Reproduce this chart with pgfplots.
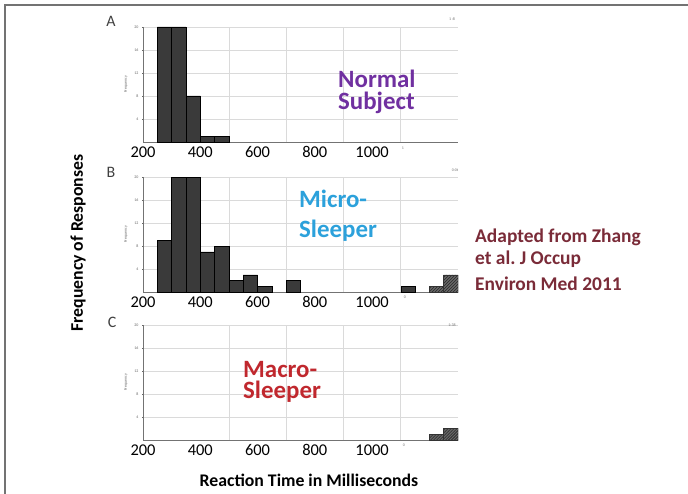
\documentclass[border=0pt]{standalone}
\usepackage{fontspec}
\setmainfont{Carlito}
\usepackage{pgfplots}
\pgfplotsset{compat=1.18}
\usetikzlibrary{patterns}

\definecolor{barfill}{HTML}{3A3A3A}
\definecolor{purp}{HTML}{7030A0}
\definecolor{cyanb}{HTML}{2CA1DB}
\definecolor{macred}{HTML}{C0282E}
\definecolor{maroonc}{HTML}{7A2B38}
\definecolor{gridc}{HTML}{DADADA}

\pgfplotsset{
  panel/.style={
    scale only axis, width=315bp, height=115bp,
    xmin=200, xmax=1300, ymin=0, ymax=20,
    axis x line=bottom, axis y line=left,
    axis line style={-, black!55, line width=0.8bp},
    xtick={200,400,600,800,1000},
    xtick style={draw=none},
    x tick label style={font=\fontsize{16.5}{16.5}\selectfont,
      /pgf/number format/assume math mode=true,
      /pgf/number format/1000 sep={}},
    extra x ticks={500,700,900,1100},
    extra x tick labels={},
    extra x tick style={grid=major},
    ytick={4,8,12,16,20},
    ymajorgrids,
    grid style={gridc, line width=0.6bp},
    y tick label style={font=\fontsize{4}{4}\selectfont, text=black!60,
      /pgf/number format/assume math mode=true},
    ytick style={black!60, line width=0.4bp},
    major tick length=2bp,
    ylabel={Frequency},
    ylabel style={font=\fontsize{4}{4}\selectfont, text=black!60},
  },
  bars/.style={ybar interval, fill=barfill, draw=black, line width=0.4bp},
  hbars/.style={ybar interval, fill=black!60, draw=black!80, line width=0.4bp,
    postaction={pattern=north east lines, pattern color=black!90}},
}

\begin{document}
\begin{tikzpicture}[x=1bp,y=1bp]
\path[use as bounding box] (0,0) rectangle (688,-494);
\draw[black!55, line width=2bp] (5,-494) -- (5,-5) -- (688,-5);

% A: normal subject
\begin{axis}[panel, at={(143bp,-142bp)}, anchor=south west]
  \addplot[bars] coordinates {(250,20) (300,20) (350,8) (400,1) (450,1) (500,0)};
\end{axis}

% B: micro-sleeper
\begin{axis}[panel, at={(143bp,-292bp)}, anchor=south west]
  \addplot[bars] coordinates {(250,9) (300,20) (350,20) (400,7) (450,8)
    (500,2) (550,3) (600,1) (650,0)};
  \addplot[bars] coordinates {(700,2) (750,0)};
  \addplot[bars] coordinates {(1100,1) (1150,0)};
  \addplot[hbars] coordinates {(1200,1) (1250,3) (1300,0)};
\end{axis}

% C: macro-sleeper
\begin{axis}[panel, at={(143bp,-440bp)}, anchor=south west]
  \addplot[hbars] coordinates {(1200,1) (1250,2) (1300,0)};
\end{axis}

\node[font=\fontsize{16}{16}\selectfont, text=black!75] at (111,-21) {A};
\node[font=\fontsize{16}{16}\selectfont, text=black!75] at (111,-172) {B};
\node[font=\fontsize{16}{16}\selectfont, text=black!75] at (112,-322) {C};

\begin{scope}[font=\fontsize{4}{4}\selectfont, text=black!55]
  \node at (452,-19) {1 :8};
  \node at (455,-170) {0:0t};
  \node at (452,-325) {1:38};
  \node at (403,-148) {1};
  \node at (405,-297) {0};
  \node at (404,-445) {0};
\end{scope}

\begin{scope}[font=\bfseries\fontsize{25}{25}\selectfont]
  \node[anchor=base west, inner sep=0, text=purp] at (338,-88) {Normal};
  \node[anchor=base west, inner sep=0, text=purp] at (338,-110) {Subject};
  \node[anchor=base west, inner sep=0, text=cyanb] at (299,-208) {Micro-};
  \node[anchor=base west, inner sep=0, text=cyanb] at (299,-238) {Sleeper};
  \node[anchor=base west, inner sep=0, text=macred] at (243,-377) {Macro-};
  \node[anchor=base west, inner sep=0, text=macred] at (243,-398) {Sleeper};
\end{scope}

\begin{scope}[font=\bfseries\fontsize{19.5}{19.5}\selectfont, text=maroonc]
  \node[anchor=base west, inner sep=0] at (475,-243) {Adapted from Zhang};
  \node[anchor=base west, inner sep=0] at (475,-265) {et al.\ J Occup};
  \node[anchor=base west, inner sep=0] at (475,-290) {Environ Med 2011};
\end{scope}

\node[font=\bfseries\fontsize{17.8}{17.8}\selectfont, rotate=90] at (78,-243)
  {Frequency of Responses};
\node[anchor=base, inner sep=0, font=\bfseries\fontsize{17.8}{17.8}\selectfont]
  at (309,-486) {Reaction Time in Milliseconds};
\end{tikzpicture}
\end{document}
